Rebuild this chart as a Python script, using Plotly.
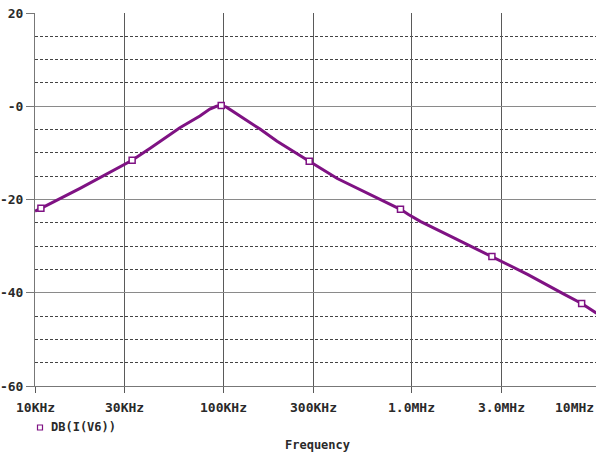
import math
import plotly.graph_objects as go

# ---- data ----
freq_hz = [10.0e3, 10.75e3, 17.35e3, 23.0e3, 32.8e3, 40.9e3, 46.1e3, 58.8e3, 75.1e3,
           84.8e3, 92.0e3, 97.5e3, 104e3, 122.7e3, 139e3, 156.6e3, 193e3, 247e3,
           286e3, 403e3, 556e3, 748e3, 873e3, 963e3, 1.112e6, 1.615e6, 2.67e6,
           4.15e6, 6.44e6, 8.0e6, 9.6e6]
db_iv6 = [-22.5, -21.9, -17.6, -15.0, -11.6, -9.0, -7.5, -4.6, -2.1,
          -0.6, 0.0, 0.15, -0.2, -2.1, -3.4, -4.9, -7.5, -10.3,
          -11.8, -15.5, -18.2, -20.8, -22.1, -23.2, -24.7, -27.9, -32.2,
          -36.1, -40.3, -42.3, -44.4]

marker_freq = [10.75e3, 32.8e3, 97.5e3, 286e3, 873e3, 2.67e6, 8.0e6]
marker_db = [-21.9, -11.6, 0.15, -11.8, -22.1, -32.2, -42.3]

x_tick_vals = [1e4, 3e4, 1e5, 3e5, 1e6, 3e6]
x_tick_text = ["10KHz", "30KHz", "100KHz", "300KHz", "1.0MHz", "3.0MHz"]
x_last_label = "10MHz"
y_tick_vals = [-60, -40, -20, 0, 20]
y_tick_text = ["-60", "-40", "-20", "-0", "20"]
legend_text = "DB(I(V6))"
x_title = "Frequency"

# ---- layout constants ----
W, H = 596, 458
L, R, T, B = 35, 0, 13, 72
PW, PH = W - L - R, H - T - B
FONT = "DejaVu Sans Mono"
TXT = "#2a2a2a"
PURPLE = "#7f1283"


def px_x(p):
    return (p - L) / PW


def px_y(p):
    return (T + PH - p) / PH


def b(s):
    return "<b>" + s + "</b>"


fig = go.Figure()
fig.add_trace(go.Scatter(x=freq_hz, y=db_iv6, mode="lines",
                         line=dict(color=PURPLE, width=3),
                         showlegend=False, hoverinfo="skip"))
fig.add_trace(go.Scatter(x=marker_freq, y=marker_db, mode="markers",
                         marker=dict(symbol="square", size=6, color="white",
                                     line=dict(color=PURPLE, width=1.5)),
                         showlegend=False, hoverinfo="skip"))

annotations = []
for v, t in zip(x_tick_vals, x_tick_text):
    annotations.append(dict(x=math.log10(v), xref="x", y=px_y(407), yref="paper",
                            text=b(t), showarrow=False, xanchor="center", yanchor="middle",
                            font=dict(family=FONT, size=13, color=TXT)))
annotations.append(dict(x=1.0, xref="paper", y=px_y(407), yref="paper",
                        text=b(x_last_label), showarrow=False, xanchor="right", yanchor="middle",
                        font=dict(family=FONT, size=13, color=TXT)))
annotations.append(dict(x=px_x(49), xref="paper", y=px_y(427), yref="paper",
                        text=b(legend_text), showarrow=False, xanchor="left", yanchor="middle",
                        font=dict(family=FONT, size=12, color=TXT)))
annotations.append(dict(x=px_x(317), xref="paper", y=px_y(445), yref="paper",
                        text=b(x_title), showarrow=False, xanchor="center", yanchor="middle",
                        font=dict(family=FONT, size=12, color=TXT)))

shapes = [dict(type="rect", xref="paper", yref="paper",
               x0=px_x(37.5), x1=px_x(42.5), y0=px_y(430), y1=px_y(425),
               line=dict(color=PURPLE, width=1.2), fillcolor="white")]

fig.update_layout(
    width=W, height=H,
    margin=dict(l=L, r=R, t=T, b=B, pad=0),
    paper_bgcolor="white", plot_bgcolor="white",
    annotations=annotations, shapes=shapes,
    xaxis=dict(type="log", range=[4, 4 + PW / 188.3],
               tickmode="array", tickvals=x_tick_vals, ticktext=[""] * len(x_tick_vals),
               showgrid=True, gridcolor="#5a5a5a", gridwidth=1,
               ticks="outside", ticklen=6, tickcolor="#5a5a5a",
               showline=True, linecolor="#777777", linewidth=1,
               zeroline=False, fixedrange=True),
    yaxis=dict(range=[-60, 20], tickmode="array", tickvals=y_tick_vals,
               ticktext=[b(t) for t in y_tick_text],
               showgrid=True, gridcolor="#8a8a8a", gridwidth=1,
               ticks="outside", ticklen=8, tickcolor="#777777",
               showline=True, linecolor="#777777", linewidth=1,
               zeroline=False,
               tickfont=dict(family=FONT, size=13, color=TXT),
               minor=dict(dtick=5, tick0=0, showgrid=True, griddash="3px,2px",
                          gridcolor="#444444", gridwidth=1, ticks=""),
               fixedrange=True),
)

fig.write_html("out.html")
